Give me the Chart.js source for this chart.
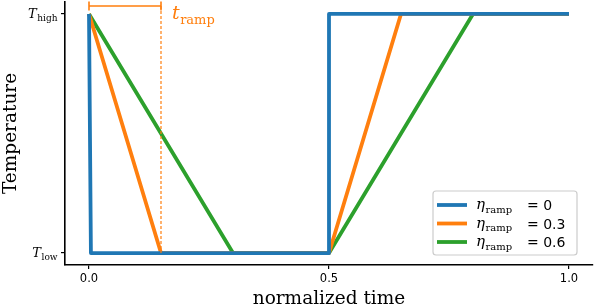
<!DOCTYPE html>
<html>
<head>
<meta charset="utf-8">
<script src="https://cdn.jsdelivr.net/npm/chart.js@4/dist/chart.umd.min.js"></script>
<style>
  html, body { margin: 0; padding: 0; background: #fff; }
  #holder { width: 594px; height: 308px; position: relative; }
</style>
</head>
<body>
<div id="holder"><canvas id="chart-area"></canvas></div>

<script>
    // normalized levels: 0 = T_low, 1 = T_high
    var levelLabels = ['low', 'high'];
    var etaLabels = ['0', '0.3', '0.6'];
    var colors = ['#1f77b4', '#ff7f0e', '#2ca02c'];

    var timesEta0  = [0, 0.004, 0.5, 0.5, 1.0];
    var timesEta03 = [0, 0.15, 0.5, 0.65, 1.0];
    var timesEta06 = [0, 0.3, 0.5, 0.8, 1.0];
    var levels     = [1, 0, 0, 1, 1];

    var xTicks = [0, 0.5, 1.0];
    var rampEnd = 0.15;     // t_ramp marker (eta = 0.3)
    var rampMarkLevel = 1.033;

    var toPoints = function(xs, ys) {
        return xs.map(function(x, i) { return {x: x, y: ys[i]}; });
    };

    var serif = '"DejaVu Serif", serif';
    var sans = '"DejaVu Sans", sans-serif';

    // draws "Main" + subscript, returns end x
    var drawSub = function(ctx, main, sub, x, y, size, align) {
        ctx.font = 'italic ' + size + 'px ' + serif;
        var w1 = ctx.measureText(main).width;
        ctx.font = Math.round(size * 0.68) + 'px ' + serif;
        var w2 = ctx.measureText(sub).width;
        var x0 = align === 'right' ? x - w1 - w2 : x;
        ctx.textAlign = 'left';
        ctx.textBaseline = 'alphabetic';
        ctx.font = 'italic ' + size + 'px ' + serif;
        ctx.fillText(main, x0, y);
        ctx.font = Math.round(size * 0.68) + 'px ' + serif;
        ctx.fillText(sub, x0 + w1 + 0.5, y + size * 0.25);
        return x0 + w1 + w2;
    };

    var annotations = {
        id: 'annotations',
        afterDraw: function(chart) {
            var ctx = chart.ctx;
            var xs = chart.scales.x, ys = chart.scales.y;
            ctx.save();

            // y tick labels
            ctx.fillStyle = '#000';
            levelLabels.forEach(function(l, i) {
                drawSub(ctx, 'T', l, 57, ys.getPixelForValue(i) + 4, 13, 'right');
            });

            // axis titles
            ctx.font = '18.5px ' + serif;
            ctx.textAlign = 'center';
            ctx.textBaseline = 'alphabetic';
            ctx.fillText('normalized time', xs.getPixelForValue(0.5), 304);
            ctx.save();
            ctx.translate(16, (ys.top + ys.bottom) / 2);
            ctx.rotate(-Math.PI / 2);
            ctx.fillText('Temperature', 0, 0);
            ctx.restore();

            // t_ramp marker
            var xa = xs.getPixelForValue(0), xb = xs.getPixelForValue(rampEnd);
            var ya = ys.getPixelForValue(rampMarkLevel);
            ctx.strokeStyle = colors[1];
            ctx.lineWidth = 1.6;
            ctx.beginPath();
            ctx.moveTo(xa, ya); ctx.lineTo(xb, ya);
            ctx.moveTo(xa, ya - 4.5); ctx.lineTo(xa, ya + 4.5);
            ctx.moveTo(xb, ya - 4.5); ctx.lineTo(xb, ya + 4.5);
            ctx.stroke();
            ctx.setLineDash([3, 2]);
            ctx.lineWidth = 1.2;
            ctx.beginPath();
            ctx.moveTo(xb, ya); ctx.lineTo(xb, ys.getPixelForValue(0));
            ctx.stroke();
            ctx.setLineDash([]);
            ctx.fillStyle = colors[1];
            drawSub(ctx, 't', 'ramp', xb + 11, ya + 13, 19, 'left');

            // legend
            var bx = 433, by = 191, bw = 144, bh = 64;
            ctx.fillStyle = 'rgba(255,255,255,0.8)';
            ctx.strokeStyle = '#cccccc';
            ctx.lineWidth = 1.2;
            ctx.beginPath();
            ctx.roundRect(bx, by, bw, bh, 3);
            ctx.fill();
            ctx.stroke();
            etaLabels.forEach(function(v, i) {
                var ry = 205 + i * 18.5;
                ctx.strokeStyle = colors[i];
                ctx.lineWidth = 3.8;
                ctx.beginPath();
                ctx.moveTo(437, ry); ctx.lineTo(467, ry);
                ctx.stroke();
                ctx.fillStyle = '#000';
                drawSub(ctx, '\u03B7', 'ramp', 476, ry + 4, 15, 'left');
                ctx.font = '14px ' + sans;
                ctx.textAlign = 'left';
                ctx.fillText('= ' + v, 527, ry + 5);
            });
            ctx.restore();
        }
    };

    var config = {
        type: 'line',
        data: {
            datasets: [
                { label: 'eta 0', data: toPoints(timesEta0, levels), borderColor: colors[0] },
                { label: 'eta 0.3', data: toPoints(timesEta03, levels), borderColor: colors[1] },
                { label: 'eta 0.6', data: toPoints(timesEta06, levels), borderColor: colors[2] }
            ]
        },
        options: {
            responsive: true,
            maintainAspectRatio: false,
            animation: false,
            events: [],
            layout: { padding: { top: 2, right: 1, left: 0, bottom: 0 } },
            elements: {
                point: { radius: 0 },
                line: { borderWidth: 3.8, tension: 0, borderJoinStyle: 'round', fill: false }
            },
            plugins: { legend: { display: false }, tooltip: { enabled: false } },
            scales: {
                x: {
                    type: 'linear',
                    min: -0.05, max: 1.05,
                    afterFit: function(s) { s.height = 43; },
                    afterBuildTicks: function(s) { s.ticks = xTicks.map(function(v) { return {value: v}; }); },
                    border: { display: true, color: '#000', width: 1.6 },
                    grid: { drawOnChartArea: false, drawTicks: true, tickLength: 4, color: '#000', lineWidth: 1.2 },
                    ticks: {
                        color: '#000', padding: 3, maxRotation: 0,
                        font: { family: '"DejaVu Sans"', size: 11.5 },
                        callback: function(v) { return v.toFixed(1); }
                    }
                },
                y: {
                    type: 'linear',
                    min: -0.05, max: 1.05,
                    afterFit: function(s) { s.width = 65; },
                    afterBuildTicks: function(s) { s.ticks = [{value: 0}, {value: 1}]; },
                    border: { display: true, color: '#000', width: 1.6 },
                    grid: { drawOnChartArea: false, drawTicks: true, tickLength: 4, color: '#000', lineWidth: 1.2 },
                    ticks: { display: false }
                }
            }
        },
        plugins: [annotations]
    };

    var ctx = document.getElementById('chart-area').getContext('2d');
    window.myLine = new Chart(ctx, config);
</script>
</body>
</html>
